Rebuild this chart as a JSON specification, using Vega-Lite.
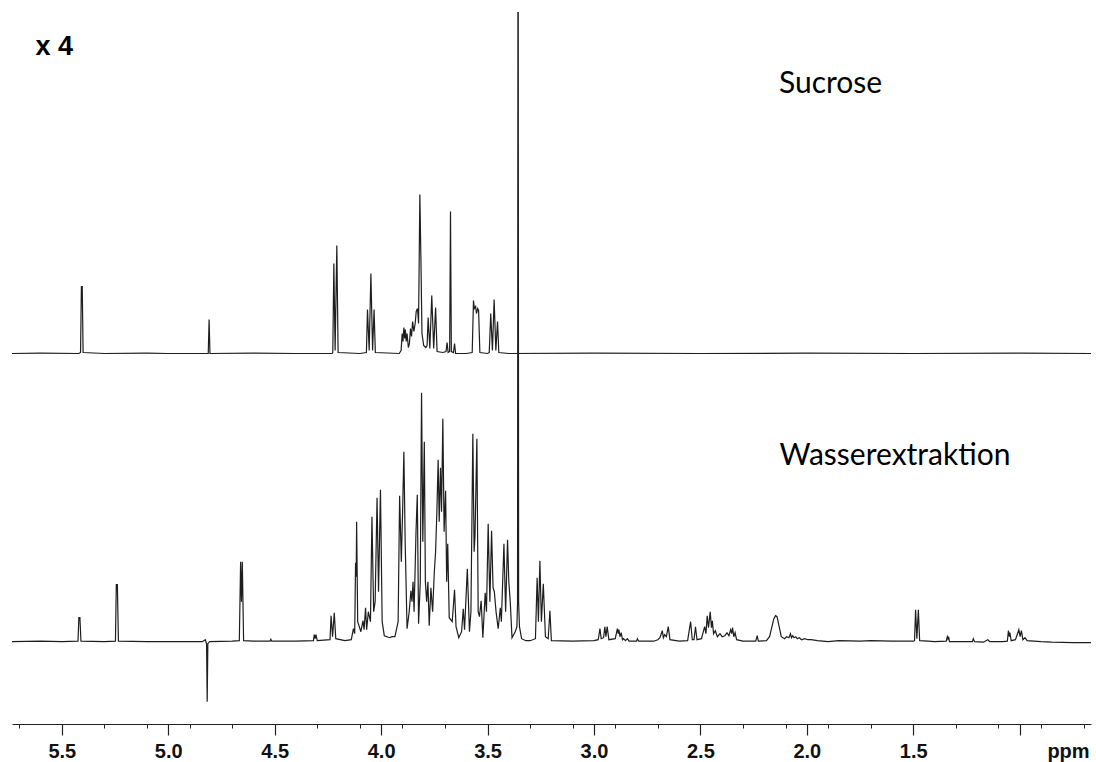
{
  "$schema": "https://vega.github.io/schema/vega-lite/v6.json",
  "width": 1079,
  "height": 712,
  "autosize": "none",
  "padding": {"left": 12, "top": 12, "right": 5, "bottom": 38},
  "background": "white",
  "config": {"view": {"stroke": null}},
  "datasets": {
    "sucrose": [
      {"ppm":5.734,"i":0},{"ppm":5.6,"i":0.3},{"ppm":5.42,"i":0},{"ppm":5.412,"i":1},{"ppm":5.408,"i":67},{"ppm":5.404,"i":67},{"ppm":5.4,"i":1},
      {"ppm":5.3,"i":0},{"ppm":5.1,"i":0.3},{"ppm":5.0,"i":0},{"ppm":4.812,"i":0},{"ppm":4.808,"i":34},{"ppm":4.804,"i":0},
      {"ppm":4.6,"i":0.3},{"ppm":4.4,"i":0},{"ppm":4.23,"i":0},{"ppm":4.227,"i":1},{"ppm":4.222,"i":90},{"ppm":4.216,"i":3},{"ppm":4.208,"i":108},{"ppm":4.202,"i":1},
      {"ppm":4.1,"i":0},{"ppm":4.069,"i":1},{"ppm":4.064,"i":44},{"ppm":4.056,"i":3},{"ppm":4.048,"i":80},{"ppm":4.04,"i":3},{"ppm":4.033,"i":44},{"ppm":4.027,"i":1},
      {"ppm":3.915,"i":0},{"ppm":3.906,"i":3},{"ppm":3.901,"i":20},{"ppm":3.897,"i":12},{"ppm":3.893,"i":26},{"ppm":3.889,"i":15},{"ppm":3.886,"i":24},{"ppm":3.882,"i":12},{"ppm":3.878,"i":20},
      {"ppm":3.872,"i":6},{"ppm":3.867,"i":10},{"ppm":3.862,"i":25},{"ppm":3.857,"i":17},{"ppm":3.852,"i":32},{"ppm":3.846,"i":22},{"ppm":3.84,"i":30},{"ppm":3.835,"i":42},{"ppm":3.829,"i":45},{"ppm":3.824,"i":30},
      {"ppm":3.818,"i":159},{"ppm":3.813,"i":95},{"ppm":3.808,"i":20},{"ppm":3.8,"i":8},{"ppm":3.79,"i":6},{"ppm":3.784,"i":8},{"ppm":3.779,"i":36},{"ppm":3.771,"i":5},{"ppm":3.762,"i":58},{"ppm":3.753,"i":5},{"ppm":3.744,"i":46},{"ppm":3.737,"i":2},
      {"ppm":3.71,"i":1},{"ppm":3.695,"i":2},{"ppm":3.69,"i":11},{"ppm":3.685,"i":1},{"ppm":3.678,"i":2},{"ppm":3.674,"i":142},{"ppm":3.67,"i":2},{"ppm":3.66,"i":1},{"ppm":3.655,"i":10},{"ppm":3.65,"i":0},
      {"ppm":3.6,"i":0},{"ppm":3.572,"i":1},{"ppm":3.566,"i":53},{"ppm":3.562,"i":45},{"ppm":3.556,"i":47},{"ppm":3.552,"i":40},{"ppm":3.546,"i":45},{"ppm":3.542,"i":43},{"ppm":3.536,"i":1},
      {"ppm":3.5,"i":0},{"ppm":3.492,"i":1},{"ppm":3.485,"i":40},{"ppm":3.477,"i":3},{"ppm":3.469,"i":54},{"ppm":3.461,"i":3},{"ppm":3.453,"i":32},{"ppm":3.447,"i":1},
      {"ppm":3.4,"i":0},{"ppm":3.0,"i":0.3},{"ppm":2.5,"i":0},{"ppm":2.0,"i":0.3},{"ppm":1.5,"i":0},{"ppm":1.0,"i":0.3},{"ppm":0.665,"i":0}
    ],
    "wasser": [
      {"ppm":5.734,"i":0},{"ppm":5.6,"i":0.5},{"ppm":5.5,"i":0},{"ppm":5.424,"i":0.5},{"ppm":5.42,"i":24},{"ppm":5.415,"i":24},{"ppm":5.41,"i":0.5},
      {"ppm":5.3,"i":0},{"ppm":5.248,"i":0.5},{"ppm":5.244,"i":57},{"ppm":5.239,"i":57},{"ppm":5.234,"i":0.5},{"ppm":5.1,"i":0},{"ppm":4.95,"i":0},
      {"ppm":4.84,"i":0},{"ppm":4.826,"i":2},{"ppm":4.82,"i":-2},{"ppm":4.817,"i":-60},{"ppm":4.814,"i":-2},{"ppm":4.805,"i":0},
      {"ppm":4.7,"i":0.5},{"ppm":4.666,"i":1},{"ppm":4.66,"i":80},{"ppm":4.656,"i":40},{"ppm":4.652,"i":80},{"ppm":4.646,"i":1},{"ppm":4.6,"i":0.5},
      {"ppm":4.522,"i":0.5},{"ppm":4.518,"i":2.5},{"ppm":4.514,"i":0.5},{"ppm":4.4,"i":0.5},
      {"ppm":4.318,"i":1},{"ppm":4.314,"i":7},{"ppm":4.31,"i":3},{"ppm":4.306,"i":7},{"ppm":4.3,"i":1},
      {"ppm":4.24,"i":2},{"ppm":4.235,"i":26},{"ppm":4.228,"i":5},{"ppm":4.22,"i":29},{"ppm":4.213,"i":3},
      {"ppm":4.17,"i":1},{"ppm":4.14,"i":2},{"ppm":4.13,"i":13},{"ppm":4.124,"i":8},{"ppm":4.12,"i":79},{"ppm":4.117,"i":65},{"ppm":4.115,"i":120},{"ppm":4.11,"i":20},
      {"ppm":4.095,"i":10},{"ppm":4.085,"i":21},{"ppm":4.08,"i":12},{"ppm":4.073,"i":34},{"ppm":4.068,"i":12},{"ppm":4.06,"i":30},{"ppm":4.05,"i":20},{"ppm":4.043,"i":125},{"ppm":4.035,"i":30},
      {"ppm":4.028,"i":40},{"ppm":4.019,"i":144},{"ppm":4.012,"i":50},{"ppm":4.003,"i":152},{"ppm":3.995,"i":20},{"ppm":3.985,"i":6},{"ppm":3.96,"i":4},{"ppm":3.95,"i":5},{"ppm":3.935,"i":5},
      {"ppm":3.92,"i":20},{"ppm":3.913,"i":146},{"ppm":3.905,"i":80},{"ppm":3.899,"i":130},{"ppm":3.893,"i":190},{"ppm":3.887,"i":100},{"ppm":3.878,"i":13},
      {"ppm":3.868,"i":30},{"ppm":3.86,"i":51},{"ppm":3.855,"i":40},{"ppm":3.85,"i":60},{"ppm":3.845,"i":30},{"ppm":3.836,"i":110},{"ppm":3.83,"i":147},{"ppm":3.824,"i":18},
      {"ppm":3.816,"i":60},{"ppm":3.81,"i":249},{"ppm":3.804,"i":100},{"ppm":3.797,"i":200},{"ppm":3.792,"i":60},{"ppm":3.786,"i":40},{"ppm":3.78,"i":60},{"ppm":3.774,"i":16},
      {"ppm":3.766,"i":54},{"ppm":3.758,"i":30},{"ppm":3.75,"i":70},{"ppm":3.744,"i":90},{"ppm":3.738,"i":130},{"ppm":3.732,"i":182},{"ppm":3.727,"i":120},{"ppm":3.721,"i":174},
      {"ppm":3.716,"i":130},{"ppm":3.71,"i":223},{"ppm":3.704,"i":110},{"ppm":3.697,"i":151},{"ppm":3.692,"i":60},{"ppm":3.687,"i":98},{"ppm":3.68,"i":24},
      {"ppm":3.666,"i":20},{"ppm":3.655,"i":52},{"ppm":3.648,"i":15},{"ppm":3.635,"i":4},{"ppm":3.622,"i":10},{"ppm":3.614,"i":33},{"ppm":3.608,"i":12},{"ppm":3.595,"i":73},{"ppm":3.585,"i":10},
      {"ppm":3.578,"i":30},{"ppm":3.569,"i":208},{"ppm":3.563,"i":90},{"ppm":3.559,"i":105},{"ppm":3.55,"i":203},{"ppm":3.544,"i":30},{"ppm":3.538,"i":25},{"ppm":3.53,"i":41},{"ppm":3.522,"i":4},
      {"ppm":3.511,"i":49},{"ppm":3.505,"i":30},{"ppm":3.497,"i":118},{"ppm":3.489,"i":40},{"ppm":3.481,"i":111},{"ppm":3.474,"i":54},{"ppm":3.468,"i":50},{"ppm":3.46,"i":30},{"ppm":3.45,"i":13},
      {"ppm":3.44,"i":34},{"ppm":3.435,"i":20},{"ppm":3.423,"i":98},{"ppm":3.415,"i":30},{"ppm":3.406,"i":102},{"ppm":3.4,"i":60},{"ppm":3.393,"i":39},{"ppm":3.385,"i":4},
      {"ppm":3.37,"i":10},{"ppm":3.362,"i":15},{"ppm":3.359,"i":40},{"ppm":3.3565,"i":900},{"ppm":3.354,"i":40},{"ppm":3.35,"i":15},{"ppm":3.34,"i":3},{"ppm":3.32,"i":1},{"ppm":3.3,"i":1},
      {"ppm":3.275,"i":3},{"ppm":3.267,"i":64},{"ppm":3.261,"i":20},{"ppm":3.254,"i":81},{"ppm":3.247,"i":20},{"ppm":3.238,"i":58},{"ppm":3.228,"i":5},{"ppm":3.215,"i":3},{"ppm":3.207,"i":31},{"ppm":3.2,"i":1},
      {"ppm":3.1,"i":0.5},{"ppm":3.0,"i":1},{"ppm":2.98,"i":2},{"ppm":2.972,"i":13},{"ppm":2.966,"i":3},{"ppm":2.955,"i":4},{"ppm":2.949,"i":15},{"ppm":2.944,"i":5},{"ppm":2.938,"i":15},{"ppm":2.93,"i":2},
      {"ppm":2.9,"i":3},{"ppm":2.89,"i":13},{"ppm":2.886,"i":8},{"ppm":2.883,"i":12},{"ppm":2.878,"i":5},{"ppm":2.872,"i":9},{"ppm":2.866,"i":2},{"ppm":2.861,"i":3},{"ppm":2.852,"i":1},{"ppm":2.843,"i":3},{"ppm":2.835,"i":0.5},
      {"ppm":2.8,"i":0.5},{"ppm":2.796,"i":3},{"ppm":2.79,"i":0.5},{"ppm":2.72,"i":0.5},{"ppm":2.7,"i":2},{"ppm":2.69,"i":4},{"ppm":2.679,"i":11},{"ppm":2.674,"i":4},{"ppm":2.668,"i":7},{"ppm":2.66,"i":5},{"ppm":2.651,"i":15},{"ppm":2.643,"i":2},
      {"ppm":2.6,"i":0.5},{"ppm":2.56,"i":1},{"ppm":2.546,"i":20},{"ppm":2.538,"i":2},{"ppm":2.53,"i":2},{"ppm":2.523,"i":15},{"ppm":2.516,"i":2},{"ppm":2.495,"i":3},
      {"ppm":2.48,"i":15},{"ppm":2.474,"i":8},{"ppm":2.468,"i":26},{"ppm":2.462,"i":14},{"ppm":2.454,"i":30},{"ppm":2.448,"i":14},{"ppm":2.444,"i":21},{"ppm":2.438,"i":8},{"ppm":2.43,"i":11},{"ppm":2.42,"i":5},
      {"ppm":2.408,"i":8},{"ppm":2.398,"i":5},{"ppm":2.385,"i":6},{"ppm":2.375,"i":9},{"ppm":2.366,"i":6},{"ppm":2.358,"i":12},{"ppm":2.353,"i":8},{"ppm":2.349,"i":14},{"ppm":2.343,"i":5},{"ppm":2.337,"i":9},{"ppm":2.33,"i":2},
      {"ppm":2.3,"i":0.5},{"ppm":2.24,"i":0.5},{"ppm":2.233,"i":6},{"ppm":2.228,"i":0.5},{"ppm":2.19,"i":1},{"ppm":2.175,"i":5},{"ppm":2.165,"i":14},{"ppm":2.155,"i":23},{"ppm":2.147,"i":26},{"ppm":2.14,"i":25},{"ppm":2.13,"i":15},{"ppm":2.12,"i":5},
      {"ppm":2.105,"i":3},{"ppm":2.095,"i":5},{"ppm":2.084,"i":4},{"ppm":2.077,"i":8},{"ppm":2.072,"i":4},{"ppm":2.066,"i":6},{"ppm":2.06,"i":4},{"ppm":2.052,"i":5},{"ppm":2.045,"i":3},{"ppm":2.035,"i":4},{"ppm":2.025,"i":2},{"ppm":2.01,"i":3},{"ppm":1.995,"i":2},{"ppm":1.98,"i":2},
      {"ppm":1.95,"i":1},{"ppm":1.9,"i":0},{"ppm":1.85,"i":1},{"ppm":1.75,"i":0.5},{"ppm":1.7,"i":1},{"ppm":1.6,"i":0.5},{"ppm":1.5,"i":0.5},
      {"ppm":1.494,"i":1},{"ppm":1.489,"i":32},{"ppm":1.483,"i":3},{"ppm":1.476,"i":32},{"ppm":1.47,"i":1},{"ppm":1.43,"i":0.5},{"ppm":1.4,"i":0},
      {"ppm":1.345,"i":0.5},{"ppm":1.34,"i":5},{"ppm":1.337,"i":3},{"ppm":1.334,"i":5},{"ppm":1.33,"i":0},{"ppm":1.26,"i":0},{"ppm":1.222,"i":0},{"ppm":1.218,"i":3},{"ppm":1.212,"i":0},{"ppm":1.17,"i":-0.5},{"ppm":1.15,"i":2},{"ppm":1.14,"i":0},
      {"ppm":1.08,"i":0},{"ppm":1.058,"i":0.5},{"ppm":1.053,"i":11},{"ppm":1.049,"i":5},{"ppm":1.046,"i":9},{"ppm":1.04,"i":1},{"ppm":1.02,"i":2},{"ppm":1.004,"i":12},{"ppm":0.998,"i":5},{"ppm":0.992,"i":11},{"ppm":0.985,"i":2},{"ppm":0.975,"i":4},{"ppm":0.965,"i":1},
      {"ppm":0.9,"i":0},{"ppm":0.85,"i":-0.5},{"ppm":0.75,"i":-1},{"ppm":0.665,"i":-1}
    ]
  },
  "layer": [
    {
      "layer": [
        {
          "data": {"name": "sucrose"},
          "mark": {"type": "line", "color": "#1e1e1e", "strokeWidth": 1.2, "clip": true},
          "encoding": {
            "x": {"field": "ppm", "type": "quantitative",
                  "scale": {"domain": [0.665, 5.734], "reverse": true, "zero": false, "nice": false},
                  "axis": {"orient": "bottom", "values": [0.7,0.8,0.9,1.0,1.1,1.2,1.3,1.4,1.5,1.6,1.7,1.8,1.9,2.0,2.1,2.2,2.3,2.4,2.5,2.6,2.7,2.8,2.9,3.0,3.1,3.2,3.3,3.4,3.5,3.6,3.7,3.8,3.9,4.0,4.1,4.2,4.3,4.4,4.5,4.6,4.7,4.8,4.9,5.0,5.1,5.2,5.3,5.4,5.5,5.6,5.7],
                           "labels": false, "title": null, "grid": false, "tickSize": 4, "tickWidth": 1, "tickColor": "#222",
                           "domain": true, "domainColor": "#222", "domainWidth": 1.2}},
            "y": {"field": "i", "type": "quantitative",
                  "scale": {"domain": [-370.5, 341.5], "zero": false, "nice": false}, "axis": null}
          }
        },
        {
          "data": {"values": [
            {"ppm": 5.624, "i": 298.5, "label": "x 4"}
          ]},
          "mark": {"type": "text", "align": "left", "baseline": "alphabetic", "font": "Liberation Sans", "fontWeight": "bold", "fontSize": 27, "color": "#000"},
          "encoding": {
            "x": {"field": "ppm", "type": "quantitative"},
            "y": {"field": "i", "type": "quantitative"},
            "text": {"field": "label"}
          }
        },
        {
          "data": {"values": [
            {"ppm": 2.131, "i": 260.2, "label": "Sucrose"}
          ]},
          "mark": {"type": "text", "align": "left", "baseline": "alphabetic", "font": "Lato", "fontSize": 30, "color": "#000"},
          "encoding": {
            "x": {"field": "ppm", "type": "quantitative"},
            "y": {"field": "i", "type": "quantitative"},
            "text": {"field": "label"}
          }
        }
      ]
    },
    {
      "layer": [
        {
          "data": {"name": "wasser"},
          "mark": {"type": "line", "color": "#1e1e1e", "strokeWidth": 1.2, "clip": true},
          "encoding": {
            "x": {"field": "ppm", "type": "quantitative",
                  "scale": {"domain": [0.665, 5.734], "reverse": true, "zero": false, "nice": false},
                  "axis": {"orient": "bottom", "values": [1.0,1.5,2.0,2.5,3.0,3.5,4.0,4.5,5.0,5.5],
                           "labelExpr": "datum.value < 1.2 ? '' : format(datum.value, '.1f')",
                           "labelFont": "Liberation Sans", "labelFontWeight": "bold", "labelFontSize": 20, "labelColor": "#111",
                           "labelPadding": 6, "labelOverlap": false, "labelFlush": false,
                           "tickSize": 11, "tickWidth": 1.2, "tickColor": "#222", "grid": false, "domain": false,
                           "title": "ppm", "titleFont": "Liberation Sans", "titleFontWeight": "bold", "titleFontSize": 20, "titleColor": "#111",
                           "titleX": 1056, "titleY": 33, "titleAlign": "center", "titleBaseline": "alphabetic"}},
            "y": {"field": "i", "type": "quantitative",
                  "scale": {"domain": [-82.3, 629.7], "zero": false, "nice": false}, "axis": null}
          }
        },
        {
          "data": {"values": [
            {"ppm": 2.128, "i": 176.7, "label": "Wasserextraktion"}
          ]},
          "mark": {"type": "text", "align": "left", "baseline": "alphabetic", "font": "Lato", "fontSize": 30, "color": "#000"},
          "encoding": {
            "x": {"field": "ppm", "type": "quantitative"},
            "y": {"field": "i", "type": "quantitative"},
            "text": {"field": "label"}
          }
        }
      ]
    }
  ],
  "resolve": {"scale": {"y": "independent"}, "axis": {"x": "independent"}}
}
